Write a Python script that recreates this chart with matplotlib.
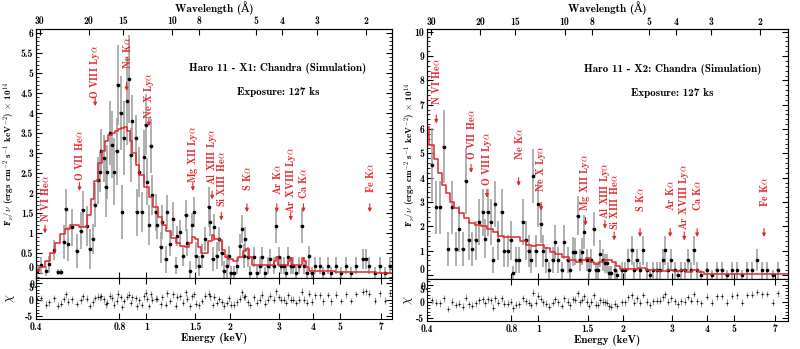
import numpy as np
import matplotlib
matplotlib.use('Agg')
import matplotlib.pyplot as plt
from matplotlib.ticker import FixedLocator, NullLocator, MultipleLocator, NullFormatter

plt.rcParams['font.family'] = ['cmb10', 'DejaVu Serif']
plt.rcParams['mathtext.fontset'] = 'cm'
plt.rcParams['axes.unicode_minus'] = False

# ---- Haro 11 - X1 : binned spectrum (keV, flux x1e14, error) ----
x1_energy = [0.403, 0.417, 0.435, 0.446, 0.466, 0.479, 0.493, 0.503, 0.513, 0.522,
             0.539, 0.561, 0.579, 0.590, 0.609, 0.626, 0.640, 0.652, 0.667, 0.680,
             0.689, 0.701, 0.714, 0.724, 0.740, 0.754, 0.765, 0.782, 0.790, 0.808,
             0.819, 0.830, 0.853, 0.865, 0.878, 0.890, 0.916, 0.923, 0.942, 0.961,
             0.981, 0.995, 1.010, 1.023, 1.038, 1.052, 1.081, 1.096, 1.128, 1.144,
             1.174, 1.190, 1.222, 1.250, 1.276, 1.293, 1.328, 1.357, 1.386, 1.405,
             1.443, 1.463, 1.491, 1.505, 1.546, 1.588, 1.635, 1.680, 1.700, 1.738,
             1.757, 1.797, 1.837, 1.874, 1.901, 1.954, 1.981, 2.020, 2.065, 2.124,
             2.172, 2.215, 2.246, 2.278, 2.321, 2.373, 2.439, 2.507, 2.562, 2.612,
             2.688, 2.740, 2.801, 2.879, 2.944, 3.001, 3.060, 3.127, 3.197, 3.258,
             3.323, 3.397, 3.473, 3.570, 3.640, 3.710, 3.795, 3.877, 3.955, 4.067,
             4.237, 4.352, 4.533, 4.657, 4.852, 5.054, 5.266, 5.486, 5.715, 6.028,
             6.197, 6.370, 6.685, 6.964, 7.263, 7.566]
x1_flux = [0.06, 0.20, 0.06, 0.23, 0.59, 0.03, 0.03, 0.78, 1.60, 0.73,
           1.15, 0.56, 1.07, 1.59, 1.19, 0.62, 0.86, 1.70, 2.33, 2.54,
           3.06, 2.88, 2.16, 2.54, 3.51, 3.22, 2.54, 3.05, 4.71, 4.01,
           1.53, 3.38, 4.31, 4.86, 2.96, 3.80, 3.38, 1.53, 2.54, 1.53,
           2.92, 3.72, 2.29, 1.20, 3.18, 1.95, 1.53, 1.20, 0.65, 1.28,
           0.35, 1.53, 0.73, 1.36, 0.19, 0.94, 1.03, 0.44, 1.45, 0.77,
           0.06, 1.20, 1.53, 0.44, 0.19, 0.44, 0.86, 1.66, 1.28, 0.35,
           1.15, 0.44, 0.86, 0.52, 0.06, 0.19, 0.44, 0.02, 0.02, 0.19,
           0.69, 1.11, 0.44, 0.86, 0.40, 0.02, 0.40, 0.02, 0.19, 0.40,
           0.00, 0.19, 0.35, 0.19, 1.19, 0.40, 0.19, 0.19, 0.02, 0.40,
           0.19, 0.19, 0.02, 0.19, 1.19, 0.19, 0.02, 0.44, 0.00, 0.19,
           0.19, 0.00, 0.19, 0.00, 0.19, 0.00, 0.19, 0.00, 0.19, 0.35,
           0.35, 0.19, 0.00, 0.19, 0.00, 0.19]
x1_err = [0.17, 0.21, 0.13, 0.21, 0.25, 0.08, 0.08, 0.42, 0.50, 0.42,
          0.46, 0.42, 0.46, 0.46, 0.50, 0.50, 0.38, 0.55, 0.59, 0.50,
          0.55, 0.59, 0.76, 0.67, 0.80, 0.84, 0.84, 0.84, 1.00, 0.93,
          0.67, 0.93, 1.10, 1.10, 0.67, 0.67, 0.59, 0.59, 0.63, 0.50,
          0.67, 0.76, 0.59, 0.50, 0.67, 0.50, 0.46, 0.34, 0.38, 0.42,
          0.34, 0.42, 0.30, 0.42, 0.21, 0.25, 0.30, 0.25, 0.38, 0.34,
          0.25, 0.30, 0.38, 0.34, 0.25, 0.30, 0.30, 0.50, 0.34, 0.30,
          0.34, 0.34, 0.30, 0.34, 0.25, 0.30, 0.25, 0.17, 0.17, 0.21,
          0.30, 0.34, 0.30, 0.30, 0.25, 0.17, 0.25, 0.17, 0.21, 0.25,
          0.15, 0.21, 0.25, 0.21, 0.42, 0.25, 0.21, 0.21, 0.17, 0.25,
          0.21, 0.21, 0.17, 0.21, 0.42, 0.21, 0.17, 0.25, 0.15, 0.21,
          0.21, 0.15, 0.21, 0.15, 0.21, 0.15, 0.21, 0.15, 0.21, 0.25,
          0.25, 0.21, 0.15, 0.21, 0.15, 0.21]
x1_chi = [0.3, 0.5, -1.5, -0.8, 0.4, -1.8, -1.2, 0.2, 1.6, -0.6,
          0.1, -1.3, -0.2, 1.0, 0.3, -1.9, -0.8, 0.5, 0.9, 0.7,
          1.0, 0.1, -1.4, -0.9, 1.2, 0.6, -1.5, -0.3, 1.8, 0.8,
          -2.2, -0.4, 0.9, 1.5, -1.0, 0.7, 0.5, -2.0, -0.2, -1.6,
          1.0, 2.1, 0.2, -1.9, 1.6, 0.0, 0.3, 0.2, -1.4, 0.8,
          -1.5, 1.9, -0.4, 1.6, -1.8, 0.9, 1.0, -0.9, 2.2, 0.3,
          -2.0, 1.0, 1.6, -1.2, -1.7, -0.4, 1.2, 1.8, 1.0, -1.6,
          0.9, -1.0, 0.2, -0.7, -1.8, -1.0, 0.4, -1.5, -1.5, -0.8,
          0.3, 2.2, 0.8, 1.0, -0.8, -1.6, 0.7, -0.9, 0.0, 1.5,
          -1.2, 0.0, 1.2, 0.0, 2.5, 0.8, 0.0, 0.0, -1.0, 1.3,
          0.0, 0.0, -1.0, 0.0, 2.4, 0.0, -0.9, 1.8, -0.6, 1.3,
          1.3, -0.5, 1.4, -0.5, 1.5, -0.4, 1.6, -0.4, 1.7, 2.4,
          2.5, 1.8, -0.3, 1.9, -0.3, 2.0]
x1_model_energy = [0.40, 0.42, 0.44, 0.46, 0.48, 0.50, 0.52, 0.54, 0.56, 0.58,
                   0.60, 0.62, 0.64, 0.66, 0.68, 0.70, 0.72, 0.74, 0.76, 0.78,
                   0.80, 0.82, 0.84, 0.86, 0.88, 0.90, 0.93, 0.96, 1.00, 1.04,
                   1.08, 1.12, 1.16, 1.20, 1.25, 1.30, 1.35, 1.40, 1.44, 1.48,
                   1.52, 1.56, 1.60, 1.65, 1.70, 1.74, 1.78, 1.82, 1.86, 1.90,
                   1.95, 2.00, 2.10, 2.20, 2.27, 2.32, 2.38, 2.45, 2.55, 2.70,
                   2.85, 2.92, 2.96, 3.00, 3.08, 3.20, 3.28, 3.32, 3.38, 3.50,
                   3.62, 3.68, 3.74, 3.82, 3.90, 4.2, 4.6, 5.0, 5.5, 6.0,
                   6.5, 7.0, 7.7]
x1_model_flux = [0.05, 0.15, 0.32, 0.52, 0.75, 0.98, 1.12, 1.20, 1.22, 1.16,
                 1.15, 1.45, 1.85, 2.30, 2.75, 3.05, 3.30, 3.45, 3.52, 3.56,
                 3.60, 3.63, 3.66, 3.55, 3.30, 3.00, 2.70, 2.45, 2.15, 1.90,
                 1.65, 1.42, 1.20, 1.05, 0.88, 0.75, 0.68, 0.66, 0.75, 0.90,
                 0.85, 0.65, 0.50, 0.52, 0.80, 0.95, 0.85, 0.85, 0.82, 0.58,
                 0.42, 0.35, 0.31, 0.40, 0.55, 0.62, 0.40, 0.22, 0.20, 0.20,
                 0.20, 0.32, 0.40, 0.22, 0.20, 0.20, 0.32, 0.38, 0.20, 0.20,
                 0.22, 0.38, 0.30, 0.15, 0.06, 0.05, 0.05, 0.04, 0.04, 0.03,
                 0.03, 0.02, 0.02]

# ---- Haro 11 - X2 ----
x2_energy = [0.415, 0.431, 0.446, 0.458, 0.475, 0.492, 0.506, 0.520, 0.535, 0.549,
             0.564, 0.580, 0.597, 0.613, 0.631, 0.645, 0.658, 0.676, 0.689, 0.701,
             0.719, 0.739, 0.754, 0.775, 0.797, 0.813, 0.831, 0.854, 0.877, 0.901,
             0.921, 0.939, 0.957, 0.977, 0.998, 1.018, 1.038, 1.066, 1.094, 1.123,
             1.147, 1.178, 1.210, 1.236, 1.271, 1.295, 1.330, 1.356, 1.380, 1.404,
             1.432, 1.459, 1.486, 1.515, 1.543, 1.574, 1.605, 1.633, 1.665, 1.698,
             1.730, 1.761, 1.788, 1.823, 1.874, 1.916, 1.981, 2.043, 2.097, 2.155,
             2.204, 2.246, 2.309, 2.372, 2.439, 2.505, 2.573, 2.642, 2.714, 2.790,
             2.844, 2.906, 2.985, 3.067, 3.152, 3.240, 3.330, 3.420, 3.512, 3.592,
             3.690, 3.818, 3.990, 4.161, 4.338, 4.524, 4.717, 4.918, 5.127, 5.346,
             5.573, 5.811, 6.058, 6.317, 6.586, 6.866, 7.158]
x2_flux = [4.54, 2.78, 2.78, 5.28, 1.08, 2.78, 1.08, 1.90, 1.08, 3.86,
           1.42, 1.06, 1.42, 2.17, 2.57, 1.49, 2.57, 2.17, 0.61, 2.91,
           1.42, 2.57, 0.98, 0.98, 1.42, 0.07, 0.61, 0.61, 2.17, 1.42,
           0.98, 0.61, 4.07, 0.98, 2.91, 2.10, 0.98, 0.61, 0.20, 0.61,
           1.36, 0.61, 0.20, 1.36, 0.61, 0.20, 0.95, 0.95, 2.44, 0.61,
           0.95, 1.76, 0.61, 0.20, 0.61, 1.90, 0.20, 0.20, 0.88, 0.61,
           0.47, 0.47, 0.07, 0.07, 0.20, 0.00, 0.20, 0.20, 0.61, 1.02,
           0.20, 0.61, 0.20, 1.02, 0.20, 0.00, 0.20, 0.20, 0.20, 0.61,
           1.02, 0.20, 0.61, 0.20, 0.00, 0.20, 0.20, 0.61, 0.20, 1.02,
           0.20, 0.00, 0.20, 0.00, 0.20, 0.20, 0.00, 0.20, 0.20, 0.00,
           0.20, 0.20, 0.61, 0.20, 0.20, 0.00, 0.20]
x2_err = [1.5, 1.1, 1.1, 1.5, 0.7, 1.1, 0.7, 0.95, 0.7, 1.35,
          0.8, 0.7, 0.8, 0.95, 0.95, 0.8, 0.95, 0.95, 0.55, 0.95,
          0.8, 0.95, 0.65, 0.65, 0.8, 0.3, 0.55, 0.55, 0.95, 0.8,
          0.65, 0.55, 1.1, 0.65, 0.95, 0.8, 0.65, 0.55, 0.35, 0.55,
          0.7, 0.55, 0.35, 0.7, 0.55, 0.35, 0.6, 0.55, 0.8, 0.45,
          0.55, 0.7, 0.45, 0.35, 0.45, 0.7, 0.35, 0.35, 0.55, 0.45,
          0.4, 0.4, 0.3, 0.3, 0.35, 0.2, 0.35, 0.35, 0.45, 0.6,
          0.35, 0.45, 0.35, 0.6, 0.35, 0.2, 0.35, 0.35, 0.35, 0.45,
          0.6, 0.35, 0.45, 0.35, 0.2, 0.35, 0.35, 0.45, 0.35, 0.6,
          0.35, 0.2, 0.35, 0.2, 0.35, 0.35, 0.2, 0.35, 0.35, 0.2,
          0.35, 0.35, 0.45, 0.35, 0.35, 0.2, 0.35]
x2_chi = [0.3, -0.4, -0.5, 0.9, -2.2, 0.0, -1.0, -0.6, -1.5, 1.1,
          -0.8, -1.2, -0.5, 0.3, 0.6, -0.5, 0.7, 0.3, -1.8, 0.9,
          -0.3, 1.0, -0.6, -0.7, 0.0, -2.0, -0.9, -0.8, 1.0, 0.1,
          -0.4, -1.0, 2.6, -0.3, 1.7, 0.8, -0.2, -0.6, -1.5, -0.3,
          0.7, -0.2, -1.3, 1.0, -0.1, -1.1, 0.6, 0.5, 2.4, -0.2,
          0.5, 1.5, -0.1, -1.3, 0.0, 1.8, -0.9, -1.0, 0.4, 0.0,
          -0.2, -0.3, -1.4, -1.5, -0.7, -1.3, -0.2, -0.2, 1.2, 1.8,
          -0.4, 0.9, -0.3, 1.9, 0.0, -1.0, 0.1, 0.2, 0.2, 1.2,
          2.1, 0.0, 1.0, 0.1, -0.8, 0.1, 0.0, 1.3, 0.2, 2.2,
          0.1, -0.5, 1.4, -0.4, 1.5, 1.6, -0.4, 1.7, 1.8, -0.4,
          1.9, 2.0, 2.8, 2.1, 2.2, -0.3, 2.4]
x2_model_energy = [0.40, 0.415, 0.43, 0.445, 0.46, 0.475, 0.49, 0.51, 0.53, 0.55,
                   0.58, 0.61, 0.64, 0.67, 0.70, 0.73, 0.76, 0.80, 0.84, 0.88,
                   0.92, 0.96, 1.00, 1.03, 1.07, 1.12, 1.18, 1.25, 1.32, 1.40,
                   1.45, 1.50, 1.55, 1.62, 1.68, 1.74, 1.80, 1.87, 1.92, 2.00,
                   2.20, 2.35, 2.50, 2.80, 2.95, 3.10, 3.30, 3.45, 3.65, 3.80,
                   4.0, 5.0, 6.0, 7.8]
x2_model_flux = [6.10, 5.35, 4.75, 4.20, 3.70, 3.35, 3.00, 2.75, 2.55, 2.35,
                 2.15, 2.05, 2.00, 1.90, 1.75, 1.60, 1.55, 1.58, 1.55, 1.38,
                 1.25, 1.18, 1.22, 1.25, 1.12, 0.95, 0.85, 0.72, 0.62, 0.55,
                 0.60, 0.68, 0.55, 0.45, 0.55, 0.62, 0.60, 0.52, 0.35, 0.25,
                 0.25, 0.30, 0.20, 0.15, 0.22, 0.15, 0.22, 0.12, 0.20, 0.10,
                 0.05, 0.04, 0.03, 0.02]

# ---- emission line identifications ----
line_names = ['N VI He$\\alpha$', 'O VII He$\\alpha$', 'O VIII Ly$\\alpha$', 'Ne K$\\alpha$',
              'Ne X Ly$\\alpha$', 'Mg XII Ly$\\alpha$', 'Al XIII Ly$\\alpha$', 'Si XIII He$\\alpha$',
              'S K$\\alpha$', 'Ar K$\\alpha$', 'Ar XVIII Ly$\\alpha$', 'Ca K$\\alpha$', 'Fe K$\\alpha$']
line_energy = [0.431, 0.574, 0.654, 0.849, 1.022, 1.472, 1.728, 1.865, 2.307, 2.957, 3.32, 3.69, 6.4]

wl_ticks = [30, 20, 15, 10, 8, 5, 4, 3, 2]
e_ticks = [0.4, 0.8, 1, 1.5, 2, 3, 4, 5, 7]
e_labels = ['0.4', '0.8', '1', '1.5', '2', '3', '4', '5', '7']
x1_yticks = [0, 0.5, 1, 1.5, 2, 2.5, 3, 3.5, 4, 4.5, 5, 5.5, 6]
x2_yticks = [0, 1, 2, 3, 4, 5, 6, 7, 8, 9, 10]

# label layout (arrow tip, text bottom) in flux units
x1_tip = [1.0, 2.06, 4.18, 4.56, 3.68, 2.06, 1.85, 1.32, 1.53, 1.53, 1.32, 1.53, 1.53]
x1_txt = [1.28, 2.30, 4.35, 5.1, 3.85, 2.25, 2.2, 1.66, 2.07, 1.95, 1.52, 1.86, 2.0]
x2_tip = [6.23, 4.2, 3.18, 3.66, 2.64, 2.03, 1.9, 1.42, 1.56, 1.56, 1.42, 1.56, 1.56]
x2_txt = [6.98, 4.74, 3.66, 4.74, 3.39, 2.64, 2.3, 1.83, 2.57, 2.64, 1.83, 2.64, 2.78]

RED = '#e3262b'
GREY = '#9a9a9a'
HC = 12.398
TICK = 7


def panel(fig, top_rect, res_rect, E, F, Ferr, chi, mE, mF, xmax, ylim, yticks, ymin_,
          tips, txts, ylab_x, chi_x, title):
    E = np.array(E)
    ax = fig.add_axes(top_rect)
    ax.errorbar(E, F, yerr=Ferr, xerr=E * 0.012, fmt='o', ms=1.6, color='black',
                ecolor=GREY, elinewidth=1.1, capsize=0, zorder=2)
    ax.step(mE, mF, where='mid', color=RED, lw=1.1, zorder=3)
    ax.set_xscale('log')
    ax.set_xlim(0.4, xmax)
    ax.set_ylim(*ylim)
    ax.xaxis.set_major_locator(FixedLocator(e_ticks))
    ax.xaxis.set_minor_locator(NullLocator())
    ax.xaxis.set_major_formatter(NullFormatter())
    ax.yaxis.set_major_locator(FixedLocator(yticks))
    ax.yaxis.set_minor_locator(MultipleLocator(ymin_))
    ax.yaxis.set_major_formatter(plt.FuncFormatter(lambda v, p: ('%g' % v)))
    ax.tick_params(which='both', direction='in', right=True, top=False, labelsize=TICK, pad=2)
    ax.tick_params(which='major', length=4)
    ax.tick_params(which='minor', length=2)
    ax.set_ylabel(r'F$_\nu/\nu$ (ergs cm$^{-2}$ s$^{-1}$ keV$^{-2}$) $\times$ 10$^{14}$', fontsize=6.6)
    ax.yaxis.set_label_coords(ylab_x, 0.5)
    # lift the "0" label a little so it clears the residual "5"
    ax.yaxis.get_major_ticks()[0].label1.set_va('bottom')

    for name, en, tp, tb in zip(line_names, line_energy, tips, txts):
        ax.text(en, tb, name, rotation=90, ha='center', va='bottom', color=RED, fontsize=7.4)
        ax.annotate('', xy=(en, tp), xytext=(0, 6), textcoords='offset points',
                    arrowprops=dict(arrowstyle='-|>', color=RED, lw=0.8, mutation_scale=5,
                                    shrinkA=0, shrinkB=0))

    ax.text(0.68, 0.84, 'Haro 11 - ' + title + ': Chandra (Simulation)', transform=ax.transAxes,
            ha='center', va='center', fontsize=8)
    ax.text(0.68, 0.745, 'Exposure: 127 ks', transform=ax.transAxes,
            ha='center', va='center', fontsize=8)

    top = ax.twiny()
    top.set_xscale('log')
    top.set_xlim(ax.get_xlim())
    top.xaxis.set_major_locator(FixedLocator([HC / w for w in wl_ticks]))
    top.xaxis.set_minor_locator(NullLocator())
    top.set_xticklabels([str(w) for w in wl_ticks])
    top.tick_params(direction='in', length=4, labelsize=TICK, pad=2)
    top.set_xlabel('Wavelength (Å)', fontsize=8, labelpad=3)

    rx = fig.add_axes(res_rect, sharex=ax)
    rx.errorbar(E, chi, yerr=1.0, xerr=E * 0.012, fmt='+', ms=2, mew=0.5, color='black',
                ecolor=GREY, elinewidth=0.8, capsize=0)
    rx.set_ylim(-5.8, 6.6)
    rx.yaxis.set_major_locator(FixedLocator([-5, 0, 5]))
    rx.yaxis.set_minor_locator(MultipleLocator(1))
    rx.xaxis.set_major_formatter(plt.FixedFormatter(e_labels))
    rx.tick_params(which='both', direction='in', right=True, top=True, labelsize=TICK, pad=2)
    rx.tick_params(which='major', length=4)
    rx.tick_params(which='minor', length=2)
    rx.set_xlabel('Energy (keV)', fontsize=8, labelpad=1)
    rx.set_ylabel(r'$\chi$', fontsize=9, rotation=90)
    rx.yaxis.set_label_coords(chi_x, 0.5)
    rx.yaxis.get_major_ticks()[2].label1.set_va('top')
    return ax, rx


fig = plt.figure(figsize=(8.0, 3.49), dpi=100)
panel(fig, [0.045, 0.2043, 0.445, 0.7126], [0.045, 0.086, 0.445, 0.1183],
      x1_energy, x1_flux, x1_err, x1_chi, x1_model_energy, x1_model_flux,
      7.7, (-0.11, 6.11), x1_yticks, 0.1, x1_tip, x1_txt, -0.052, -0.052, 'X1')
panel(fig, [0.534, 0.1997, 0.451, 0.7163], [0.534, 0.0802, 0.451, 0.1195],
      x2_energy, x2_flux, x2_err, x2_chi, x2_model_energy, x2_model_flux,
      7.8, (-0.18, 10.1), x2_yticks, 0.2, x2_tip, x2_txt, -0.025, -0.034, 'X2')

fig.savefig('out.png', dpi=100)
